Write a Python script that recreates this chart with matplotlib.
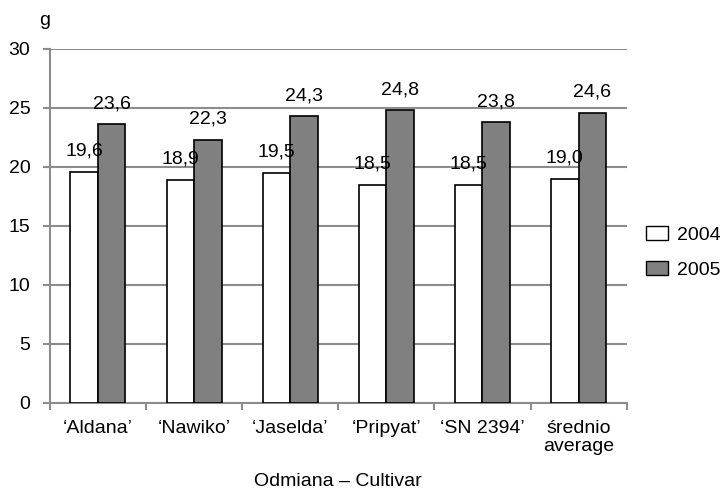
import matplotlib.pyplot as plt
import numpy as np
from matplotlib.patches import Patch

plt.rcParams['font.family'] = ['Liberation Sans', 'DejaVu Sans']
FS = 14

# cultivars and mean values per year
cultivars = ["\u2018Aldana\u2019", "\u2018Nawiko\u2019", "\u2018Jaselda\u2019",
             "\u2018Pripyat\u2019", "\u2018SN 2394\u2019", "\u015brednio\naverage"]
y2004 = [19.6, 18.9, 19.5, 18.5, 18.5, 19.0]
y2005 = [23.6, 22.3, 24.3, 24.8, 23.8, 24.6]

fig = plt.figure(figsize=(7.22, 4.92), dpi=100)
ax = fig.add_axes([0.069, 0.181, 0.799, 0.7196])

x = np.arange(len(cultivars))
w = 0.286
ax.bar(x - w / 2, y2004, w, color='white', edgecolor='black', linewidth=1.2, zorder=3)
ax.bar(x + w / 2, y2005, w, color='#808080', edgecolor='black', linewidth=1.2, zorder=3)

for xi, v in zip(x, y2004):
    ax.text(xi - w / 2, v + 1.36, f"{v:.1f}".replace('.', ','), ha='center', va='baseline', fontsize=FS)
for xi, v in zip(x, y2005):
    ax.text(xi + w / 2, v + 1.36, f"{v:.1f}".replace('.', ','), ha='center', va='baseline', fontsize=FS)

ax.set_xlim(-0.5, len(cultivars) - 0.5)
ax.set_ylim(0, 30)
ax.set_yticks(range(0, 31, 5))
ax.yaxis.grid(True, color='#8c8c8c', linewidth=1.5)
ax.set_axisbelow(True)

ax.set_xticks(x)
ax.set_xticklabels(cultivars, fontsize=FS, linespacing=1.1)
ax.set_xticks(np.arange(-0.5, len(cultivars)), minor=True)
ax.tick_params(axis='x', which='major', length=0, pad=12)
ax.tick_params(axis='x', which='minor', length=5, width=1.5, color='#8c8c8c')
ax.tick_params(axis='y', length=5, width=1.5, color='#8c8c8c', labelsize=FS, pad=9)

for s in ['top', 'right']:
    ax.spines[s].set_visible(False)
for s in ['left', 'bottom']:
    ax.spines[s].set_color('#8c8c8c')
    ax.spines[s].set_linewidth(1.5)

ax.set_xlabel("Odmiana \u2013 Cultivar", fontsize=FS, labelpad=13)
fig.text(0.062, 0.958, "g", fontsize=FS, ha='center', va='center')

handles = [Patch(facecolor='white', edgecolor='black', label='2004'),
           Patch(facecolor='#808080', edgecolor='black', label='2005')]
fig.legend(handles=handles, loc='center left', bbox_to_anchor=(0.871, 0.487),
           frameon=False, fontsize=FS, handlelength=1.13, handleheight=0.68,
           handletextpad=0.43, labelspacing=0.9)

fig.savefig('out.png', dpi=100)
